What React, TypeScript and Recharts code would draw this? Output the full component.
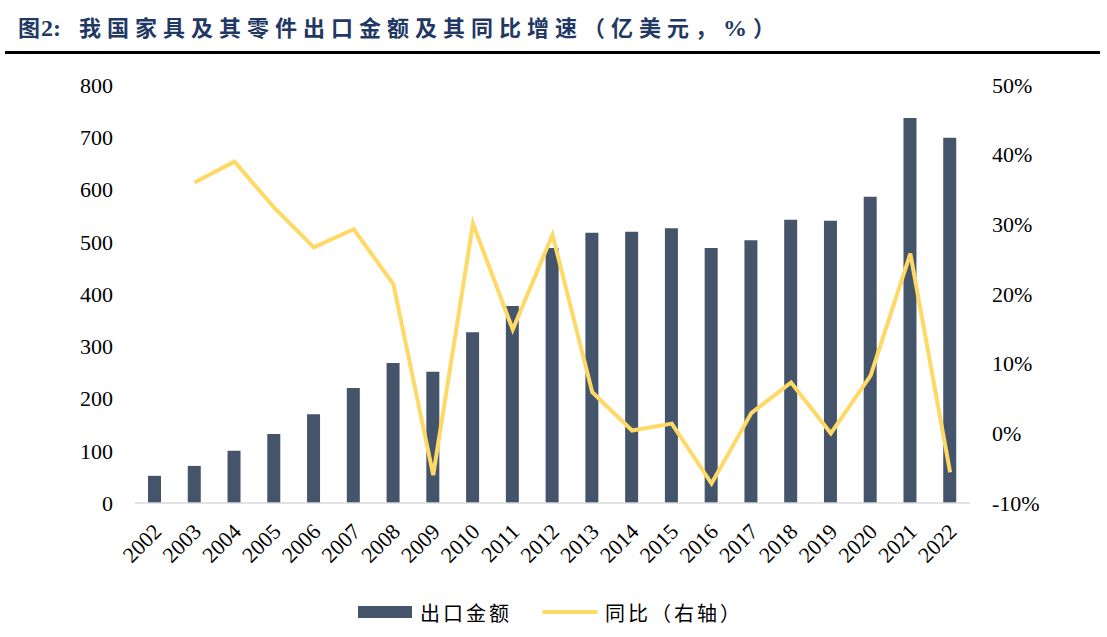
import React from "react";
import { ComposedChart, Bar, Line, XAxis, YAxis } from "recharts";

const years = ["2002","2003","2004","2005","2006","2007","2008","2009","2010","2011","2012","2013","2014","2015","2016","2017","2018","2019","2020","2021","2022"];
const exportValue = [52, 71, 100, 132, 170, 220, 268, 251, 327, 377, 488, 517, 519, 526, 488, 503, 542, 540, 586, 737, 699];
const yoyGrowth: (number | null)[] = [null, 36.0, 39.0, 32.4, 26.7, 29.3, 21.4, -6.0, 30.1, 14.9, 28.5, 5.9, 0.4, 1.4, -7.2, 2.9, 7.3, 0.0, 8.3, 25.8, -5.6];
const leftTicks = [0, 100, 200, 300, 400, 500, 600, 700, 800];
const rightTicks = [-10, 0, 10, 20, 30, 40, 50];

const data = years.map((y, i) => ({ year: y, value: exportValue[i], yoy: yoyGrowth[i] }));

const BAR_COLOR = "#44546A";
const LINE_COLOR = "#FFD966";
const SERIF = "'Liberation Serif', 'Times New Roman', serif";
const CJK = "'Noto Sans CJK SC', sans-serif";

const XTick = (props: any) => {
  const { x, y, payload } = props;
  return (
    <text
      transform={`translate(${x + 8},${y + 22}) rotate(-45)`}
      textAnchor="end"
      fontFamily={SERIF}
      fontSize={22}
      fill="#000"
    >
      {payload.value}
    </text>
  );
};

export default function App() {
  return (
    <div style={{ position: "absolute", left: 0, top: 0, width: 1107, height: 637, background: "#fff" }}>
      <div style={{ position: "absolute", left: 18, top: 12, fontFamily: CJK, fontWeight: 700, fontSize: 22, color: "#1F3864", whiteSpace: "nowrap", lineHeight: "28px" }}>
        <span style={{ letterSpacing: 1 }}>图</span>
        <span style={{ fontFamily: SERIF, fontSize: 24, marginRight: 18 }}>2:</span>
        <span style={{ letterSpacing: 6 }}>我国家具及其零件出口金额及其同比增速（亿美元，</span>
        <span style={{ fontFamily: SERIF, fontSize: 24, letterSpacing: 6 }}>%</span>
        <span>）</span>
      </div>
      <div style={{ position: "absolute", left: 5, top: 51, width: 1095, height: 3, background: "#000" }} />
      <div style={{ position: "absolute", left: 0, top: 0 }}>
        <ComposedChart width={1107} height={637} data={data} margin={{ top: 85, right: 57, bottom: 64, left: 75 }} barCategoryGap="0%">
          <XAxis
            dataKey="year"
            interval={0}
            tick={<XTick />}
            tickLine={false}
            axisLine={{ stroke: "#D9D9D9", strokeWidth: 1.5 }}
            height={70}
          />
          <YAxis
            yAxisId="left"
            domain={[0, 800]}
            ticks={leftTicks}
            width={60}
            axisLine={false}
            tickLine={false}
            tickMargin={16}
            tick={{ fontFamily: SERIF, fontSize: 22, fill: "#000" }}
          />
          <YAxis
            yAxisId="right"
            orientation="right"
            domain={[-10, 50]}
            ticks={rightTicks}
            width={80}
            axisLine={false}
            tickLine={false}
            tickMargin={16}
            tickFormatter={(v: number) => `${v}%`}
            tick={{ fontFamily: SERIF, fontSize: 22, fill: "#000" }}
          />
          <Bar yAxisId="left" dataKey="value" name="出口金额" fill={BAR_COLOR} barSize={13} isAnimationActive={false} />
          <Line yAxisId="right" dataKey="yoy" name="同比（右轴）" stroke={LINE_COLOR} strokeWidth={4} dot={false} connectNulls={false} isAnimationActive={false} />
        </ComposedChart>
      </div>
      <div style={{ position: "absolute", left: 358, top: 598, height: 28, display: "flex", alignItems: "center", fontFamily: CJK, fontSize: 20, letterSpacing: 3, color: "#000", whiteSpace: "nowrap" }}>
        <span style={{ display: "inline-block", width: 54, height: 12, background: BAR_COLOR, marginRight: 8 }} />
        <span>出口金额</span>
        <span style={{ display: "inline-block", width: 56, height: 4, background: LINE_COLOR, marginLeft: 30, marginRight: 7, borderRadius: 2 }} />
        <span>同比（右轴）</span>
      </div>
    </div>
  );
}
